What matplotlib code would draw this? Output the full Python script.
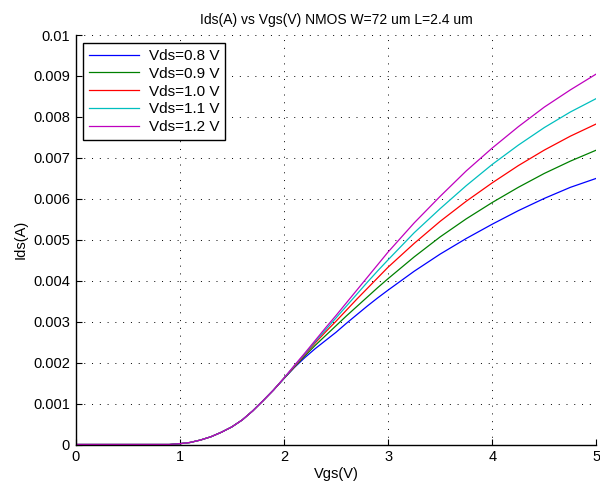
import matplotlib
matplotlib.use("Agg")
import matplotlib.pyplot as plt

plt.rcParams['font.family'] = ['Liberation Sans', 'DejaVu Sans']

vgs = [0.0, 0.5, 0.9, 1.0, 1.1, 1.2, 1.3, 1.4, 1.5, 1.6, 1.7, 1.8, 1.9,
       2.0, 2.1, 2.2, 2.3, 2.4, 2.5, 2.6, 2.7, 2.8, 2.9,
       3.0, 3.25, 3.5, 3.75, 4.0, 4.25, 4.5, 4.75, 5.0]

# drain current in mA (converted to A when plotted)
low = [0, 0, 0, 0.02, 0.05, 0.11, 0.19, 0.30, 0.43, 0.60, 0.82, 1.07, 1.33]

ids_08 = low + [1.61, 1.88, 2.12, 2.34, 2.54, 2.74, 2.96, 3.17, 3.38, 3.58,
                3.77, 4.23, 4.65, 5.03, 5.38, 5.71, 6.01, 6.28, 6.50]
ids_09 = low + [1.61, 1.89, 2.16, 2.42, 2.66, 2.90, 3.14, 3.37, 3.60, 3.83,
                4.05, 4.58, 5.07, 5.51, 5.91, 6.28, 6.62, 6.92, 7.19]
ids_10 = low + [1.62, 1.90, 2.19, 2.48, 2.75, 3.01, 3.28, 3.55, 3.81, 4.07,
                4.33, 4.91, 5.45, 5.94, 6.39, 6.81, 7.19, 7.53, 7.83]
ids_11 = low + [1.62, 1.92, 2.21, 2.51, 2.80, 3.09, 3.38, 3.67, 3.96, 4.24,
                4.51, 5.17, 5.76, 6.32, 6.84, 7.31, 7.74, 8.12, 8.45]
ids_12 = low + [1.62, 1.93, 2.23, 2.54, 2.85, 3.15, 3.46, 3.77, 4.08, 4.39,
                4.70, 5.41, 6.06, 6.68, 7.24, 7.76, 8.24, 8.66, 9.05]

labels = ['Vds=0.8 V', 'Vds=0.9 V', 'Vds=1.0 V', 'Vds=1.1 V', 'Vds=1.2 V']
colors = ['#0000ff', '#008000', '#ff0000', '#00bfbf', '#bf00bf']
series = [ids_08, ids_09, ids_10, ids_11, ids_12]

xticks = [0, 1, 2, 3, 4, 5]
yticks = [0, 0.001, 0.002, 0.003, 0.004, 0.005, 0.006, 0.007, 0.008, 0.009, 0.01]
yticklabels = ['0', '0.001', '0.002', '0.003', '0.004', '0.005', '0.006', '0.007',
               '0.008', '0.009', '0.01']

fig = plt.figure(figsize=(6.0, 4.91), dpi=100)
ax = fig.add_axes([0.126, 0.0947, 0.868, 0.834])

for y, lab, c in zip(series, labels, colors):
    ax.plot(vgs, [v / 1000.0 for v in y], color=c, lw=0.9, label=lab)

ax.set_xlim(0, 5)
ax.set_ylim(0, 0.01)
ax.set_xticks(xticks)
ax.set_xticklabels([str(t) for t in xticks])
ax.set_yticks(yticks)
ax.set_yticklabels(yticklabels)
ax.tick_params(direction='in', length=4, width=0.8, labelsize=10.5, pad=4)
ax.grid(True, linestyle=(0, (1, 7)), color='black', linewidth=0.7)
for s in ['top', 'right']:
    ax.spines[s].set_visible(False)
for s in ['left', 'bottom']:
    ax.spines[s].set_linewidth(1.0)

ax.set_xlabel('Vgs(V)', fontsize=10.5, labelpad=2)
ax.set_ylabel('Ids(A)', fontsize=10.5, labelpad=4)
ax.set_title('Ids(A) vs Vgs(V) NMOS W=72 um L=2.4 um', fontsize=10, pad=8)

leg = ax.legend(loc='upper left', bbox_to_anchor=(0.014, 0.981), fontsize=11,
                fancybox=False, framealpha=1, edgecolor='black', borderaxespad=0,
                handlelength=3.3, labelspacing=0.25, borderpad=0.4, handletextpad=0.6)
leg.get_frame().set_linewidth(1.0)

fig.savefig('out.png', dpi=100)
